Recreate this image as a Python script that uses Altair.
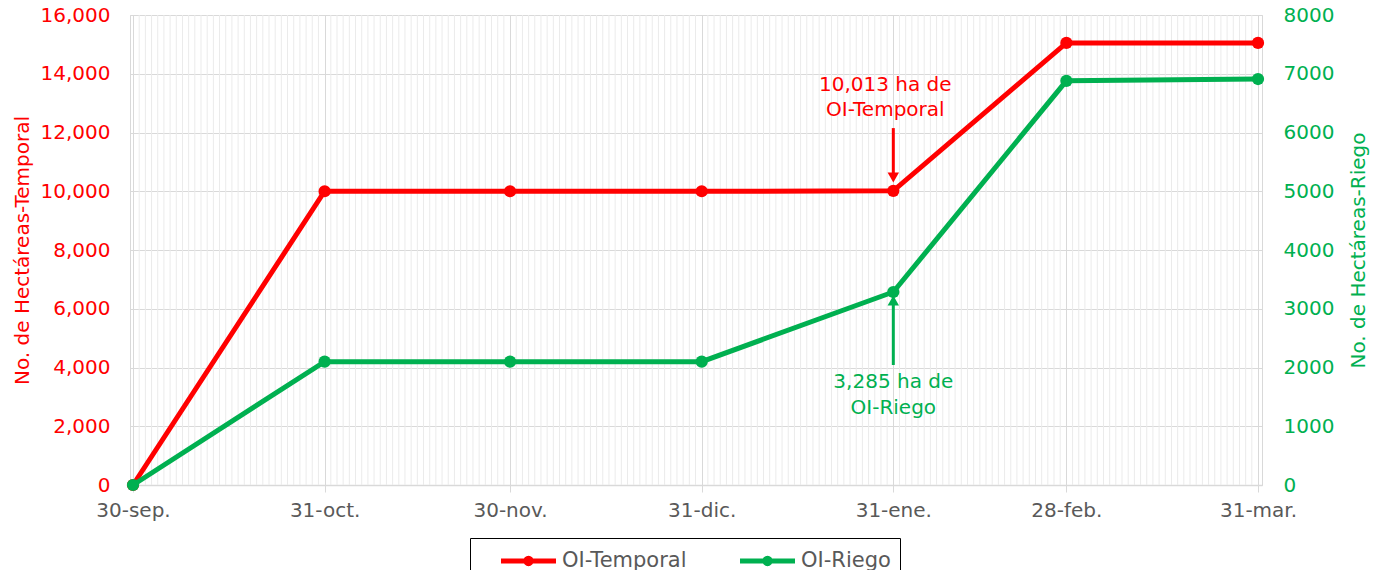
import altair as alt
import pandas as pd

# ---- data ----
fechas = ["2022-09-30", "2022-10-31", "2022-11-30", "2022-12-31",
          "2023-01-31", "2023-02-28", "2023-03-31"]
etiquetas_x = ["30-sep.", "31-oct.", "30-nov.", "31-dic.", "31-ene.", "28-feb.", "31-mar."]
temporal = [0, 10000, 10000, 10000, 10013, 15050, 15050]
riego = [0, 2100, 2100, 2100, 3285, 6880, 6910]
series = ["OI-Temporal", "OI-Riego"]
colores = ["#ff0000", "#00b050"]

# annotations (anchor date, text lines, y values in each axis' units)
anot_fecha = "2023-01-31"
anot_temporal_texto = ["10,013 ha de", "OI-Temporal"]
anot_temporal_y = [13617, 12766]
anot_riego_texto = ["3,285 ha de", "OI-Riego"]
anot_riego_y = [1753, 1311]
flecha_temporal = [12150, 10600, 10470]   # tail, shaft end, head
flecha_riego = [2043, 3064, 3140]

FONT = "DejaVu Sans"
GRIS = "#595959"
GRID = "#d9d9d9"


def ms(s):
    return int(pd.Timestamp(s, tz="UTC").value // 10**6)


xscale = alt.Scale(type="utc", domain=[ms("2022-09-29T12:20"), ms("2023-03-31T15:30")])

label_expr = ""
for f, e in zip(fechas, etiquetas_x):
    label_expr += f"utcFormat(datum.value, '%Y-%m-%d') == '{f}' ? '{e}' : "
label_expr += "''"

xaxis = alt.Axis(values=[ms(f) for f in fechas], labelExpr=label_expr, grid=True,
                 gridColor=GRID, domainColor=GRID, domainWidth=1.5, tickColor=GRID, tickSize=7,
                 labelFontSize=20, labelColor=GRIS, labelPadding=8, labelFlush=False,
                 labelOverlap=False, title=None)

color = alt.Color("serie:N", scale=alt.Scale(domain=series, range=colores),
                  legend=alt.Legend(title=None, orient="none", legendX=340, legendY=523,
                                    direction="horizontal",
                                    symbolType="M-2.5,0L2.5,0M0.25,0A0.25,0.25 0 1,1 -0.25,0A0.25,0.25 0 1,1 0.25,0",
                                    symbolSize=484, symbolStrokeWidth=5, symbolOffset=36,
                                    labelFontSize=21, labelColor=GRIS, labelOffset=20,
                                    strokeColor="black", padding=9, columnPadding=31))

X = alt.X("fecha:T", scale=xscale, axis=xaxis)

# daily minor gridlines
dias = [d.strftime("%Y-%m-%d") for d in pd.date_range("2022-09-30", "2023-03-31", freq="D")
        if d.strftime("%Y-%m-%d") not in fechas]
df_dias = pd.DataFrame({"fecha": dias})
minor = alt.Chart(df_dias).mark_rule(color="#ebebeb", strokeWidth=1).encode(x=X)

yl_scale = alt.Scale(domain=[0, 16000])
yr_scale = alt.Scale(domain=[0, 8000])

left_axis = alt.Axis(values=list(range(0, 16001, 2000)), format=",.0f", labelColor=colores[0],
                     labelFontSize=20, title="No. de Hectáreas-Temporal", titleColor=colores[0],
                     titleFontSize=20, titleFontWeight="normal", grid=True, gridColor=GRID,
                     domain=False, ticks=False, labelPadding=20, titlePadding=8)
right_axis = alt.Axis(values=list(range(0, 8001, 1000)), format="d", orient="right",
                      labelColor=colores[1], labelFontSize=20, title="No. de Hectáreas-Riego",
                      titleColor=colores[1], titleFontSize=20, titleFontWeight="normal",
                      titleAngle=270, titleBaseline="top",
                      grid=False, domain=False, ticks=False, labelPadding=21, titlePadding=15)

YL = alt.Y("valor:Q", scale=yl_scale, axis=left_axis)
YR = alt.Y("valor:Q", scale=yr_scale, axis=right_axis)

df_t = pd.DataFrame({"fecha": fechas, "valor": temporal, "serie": series[0]})
df_r = pd.DataFrame({"fecha": fechas, "valor": riego, "serie": series[1]})

line_t = alt.Chart(df_t).mark_line(strokeWidth=5, point=alt.OverlayMarkDef(size=150, filled=True, opacity=1)).encode(
    x=X, y=YL, color=color)
line_r = alt.Chart(df_r).mark_line(strokeWidth=5, point=alt.OverlayMarkDef(size=150, filled=True, opacity=1)).encode(
    x=X, y=YR, color=color)

df_at = pd.DataFrame({"fecha": [anot_fecha] * 2, "valor": anot_temporal_y, "texto": anot_temporal_texto})
txt_t = alt.Chart(df_at).mark_text(color=colores[0], fontSize=20, align="center", baseline="middle", dx=-8).encode(
    x=X, y=YL, text="texto:N")
df_ar = pd.DataFrame({"fecha": [anot_fecha] * 2, "valor": anot_riego_y, "texto": anot_riego_texto})
txt_r = alt.Chart(df_ar).mark_text(color=colores[1], fontSize=20, align="center", baseline="middle").encode(
    x=X, y=YR, text="texto:N")

df_ft = pd.DataFrame({"fecha": [anot_fecha], "valor": [flecha_temporal[0]], "valor2": [flecha_temporal[1]]})
shaft_t = alt.Chart(df_ft).mark_rule(color=colores[0], strokeWidth=3).encode(x=X, y=YL, y2="valor2:Q")
df_ht = pd.DataFrame({"fecha": [anot_fecha], "valor": [flecha_temporal[2]]})
head_t = alt.Chart(df_ht).mark_point(shape="triangle-down", filled=True, opacity=1, size=130, color=colores[0]).encode(
    x=X, y=YL)

df_fr = pd.DataFrame({"fecha": [anot_fecha], "valor": [flecha_riego[0]], "valor2": [flecha_riego[1]]})
shaft_r = alt.Chart(df_fr).mark_rule(color=colores[1], strokeWidth=3).encode(x=X, y=YR, y2="valor2:Q")
df_hr = pd.DataFrame({"fecha": [anot_fecha], "valor": [flecha_riego[2]]})
head_r = alt.Chart(df_hr).mark_point(shape="triangle-up", filled=True, opacity=1, size=130, color=colores[1]).encode(
    x=X, y=YR)

left = alt.layer(minor, line_t, txt_t, shaft_t, head_t)
right = alt.layer(line_r, txt_r, shaft_r, head_r)

chart = alt.layer(left, right).resolve_scale(y="independent").properties(
    width=1132, height=470,
    autosize=alt.AutoSizeParams(type="none"),
    padding={"left": 122, "top": 7, "right": 109, "bottom": 85},
    title=alt.TitleParams("Ciclo OI", fontSize=24, fontWeight="bold", color=GRIS, offset=0, anchor="middle"),
).configure(font=FONT).configure_view(stroke=GRID)

chart.save("out.html", embed_options={"renderer": "svg", "actions": False})
